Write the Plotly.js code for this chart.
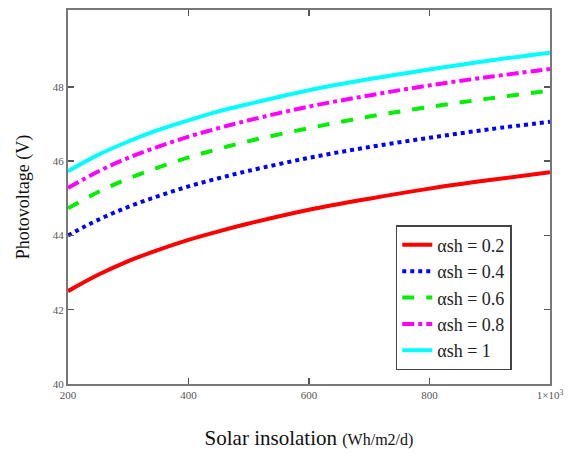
<!DOCTYPE html>
<html>
<head>
<meta charset="utf-8">
<script src="https://cdn.plot.ly/plotly-3.0.1.min.js"></script>
<style>html,body{margin:0;padding:0;background:#fff;}#chart{width:572px;height:462px;}</style>
</head>
<body>
<div id="chart"></div>
<script>
const insolation = [200, 250, 300, 350, 400, 450, 500, 600, 700, 800, 900, 1000];
const v02 = [42.50, 42.94, 43.31, 43.61, 43.88, 44.11, 44.32, 44.69, 44.99, 45.26, 45.49, 45.70];
const v04 = [44.00, 44.42, 44.77, 45.06, 45.32, 45.54, 45.74, 46.09, 46.38, 46.63, 46.86, 47.06];
const v06 = [44.73, 45.17, 45.53, 45.83, 46.10, 46.33, 46.54, 46.89, 47.20, 47.46, 47.69, 47.90];
const v08 = [45.28, 45.72, 46.09, 46.39, 46.66, 46.89, 47.10, 47.47, 47.77, 48.04, 48.27, 48.48];
const v10 = [45.73, 46.17, 46.53, 46.84, 47.10, 47.34, 47.54, 47.91, 48.21, 48.47, 48.71, 48.92];
const seriesNames = ['\u03b1sh = 0.2', '\u03b1sh = 0.4', '\u03b1sh = 0.6', '\u03b1sh = 0.8', '\u03b1sh = 1'];
const xTickVals = [200, 400, 600, 800, 1000];
const xTickText = ['200', '400', '600', '800', '1\u00d710<sup>3</sup>'];
const yTickVals = [40, 42, 44, 46, 48];

const styles = [
  {color: '#ff0000', dash: 'solid'},
  {color: '#0000ff', dash: 'dot'},
  {color: '#00ee00', dash: 'dash'},
  {color: '#ff00ff', dash: 'dashdot'},
  {color: '#00ffff', dash: 'solid'}
];
const ys = [v02, v04, v06, v08, v10];
const data = ys.map((y, i) => ({
  x: insolation, y: y, type: 'scatter', mode: 'lines', name: seriesNames[i],
  line: {color: styles[i].color, dash: styles[i].dash, width: 4, shape: 'spline'}
}));

const serif = 'Liberation Serif, Times New Roman, serif';
const tickFont = {family: serif, size: 11, color: '#555'};
const layout = {
  width: 572, height: 462,
  margin: {l: 68, r: 22, t: 10, b: 78},
  paper_bgcolor: '#fff', plot_bgcolor: '#fff',
  showlegend: true,
  legend: {
    x: 0.68, y: 0.425, xanchor: 'left', yanchor: 'top',
    bgcolor: '#fff', bordercolor: '#444', borderwidth: 1.5,
    font: {family: serif, size: 18, color: '#222'},
    tracegroupgap: 0, itemwidth: 30
  },
  xaxis: {
    range: [200, 1000], tickvals: xTickVals, ticktext: xTickText,
    ticks: 'inside', ticklen: 6, tickcolor: '#555', tickwidth: 1.5,
    showline: true, linecolor: '#777', linewidth: 2, mirror: 'ticks',
    showgrid: false, zeroline: false, tickfont: tickFont,
    title: {text: 'Solar insolation <span style="font-size:16px">(Wh/m2/d)</span>', standoff: 30,
      font: {family: serif, size: 21, color: '#111'}}
  },
  yaxis: {
    range: [40, 50.07], tickvals: yTickVals,
    ticks: 'inside', ticklen: 6, tickcolor: '#555', tickwidth: 1.5,
    showline: true, linecolor: '#777', linewidth: 2, mirror: 'ticks',
    showgrid: false, zeroline: false, tickfont: tickFont,
    title: {text: 'Photovoltage (V)', standoff: 18,
      font: {family: serif, size: 18, color: '#111'}}
  }
};
Plotly.newPlot('chart', data, layout, {staticPlot: true});
</script>
</body>
</html>
